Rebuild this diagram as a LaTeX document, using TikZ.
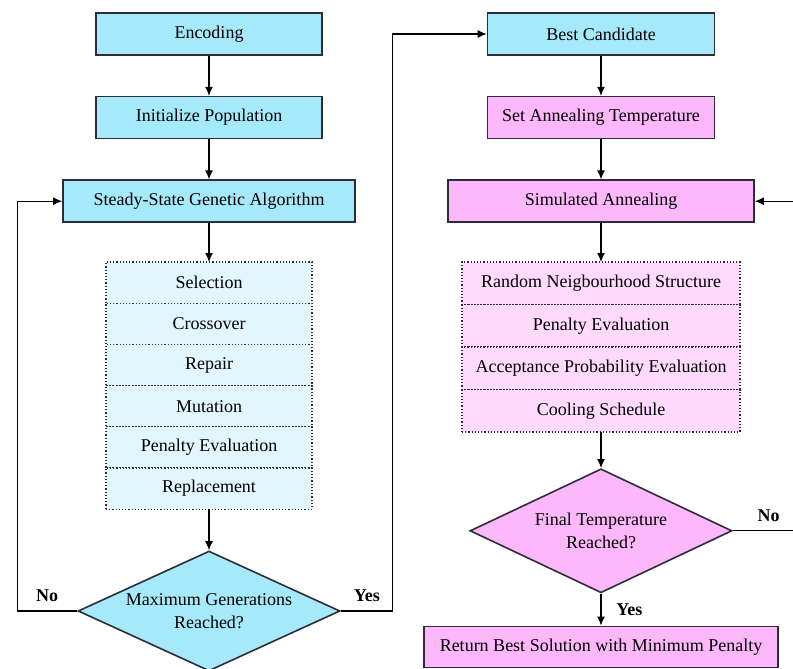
\documentclass[tikz,border=0pt]{standalone}
\usepackage{fontspec}
\setmainfont{Liberation Serif}
\usetikzlibrary{positioning}
\usetikzlibrary{arrows.meta}
\usetikzlibrary{shapes.geometric}
\definecolor{gacyan}{RGB}{166,233,250}
\definecolor{gacyanlight}{RGB}{225,246,253}
\definecolor{sapink}{RGB}{253,183,251}
\definecolor{sapinklight}{RGB}{255,218,254}
\definecolor{edgegray}{RGB}{45,45,58}

\begin{document}
\begin{tikzpicture}[x=1pt,y=1pt,font=\rmfamily\fontsize{9}{11.5}\selectfont]
\tikzset{gabox/.style={rectangle,minimum height=21pt, draw=edgegray, line width=0.8pt, fill=gacyan}}
\tikzset{sabox/.style={rectangle,minimum height=21pt, draw=edgegray, line width=0.8pt, fill=sapink}}
\tikzset{gastep/.style={rectangle,minimum width=103pt,minimum height=20.6pt, outer sep=0pt, draw=edgegray, densely dotted, line width=0.6pt, fill=gacyanlight}}
\tikzset{sastep/.style={rectangle,minimum width=139pt,minimum height=21.25pt, outer sep=0pt, draw=edgegray, densely dotted, line width=0.6pt, fill=sapinklight}}
\tikzset{gadecision/.style={diamond,aspect=2.2,inner sep=0pt,minimum width=131pt,minimum height=60pt, align=center, draw=edgegray, line width=0.8pt, fill=gacyan}}
\tikzset{sadecision/.style={diamond,aspect=2.1,inner sep=0pt,minimum width=131pt,minimum height=62pt, align=center, draw=edgegray, line width=0.8pt, fill=sapink}}
\tikzset{flow/.style={draw=black, line width=0.6pt, -{Latex[length=4.5pt,width=4pt]}}}
\tikzset{answer/.style={font=\rmfamily\fontsize{9}{11}\selectfont\bfseries}}
\useasboundingbox (0,0) rectangle (396.5,-334.5);
\clip (0,0) rectangle (396.5,-334.5);
% genetic algorithm
\node[gabox, minimum width=113pt] (encoding) at (104.5,-17) {Encoding};
\node[gabox, minimum width=113pt, below = 20pt of encoding] (initpop) {Initialize Population};
\node[gabox, minimum width=146pt, below = 20pt of initpop] (ssga) {Steady-State Genetic Algorithm};
\node[gastep, below = 19.5pt of ssga] (selection) {Selection};
\node[gastep, below = 0pt of selection] (crossover) {Crossover};
\node[gastep, below = 0pt of crossover] (repair) {Repair};
\node[gastep, below = 0pt of repair] (mutation) {Mutation};
\node[gastep, below = 0pt of mutation] (gapenalty) {Penalty Evaluation};
\node[gastep, below = 0pt of gapenalty] (replacement) {Replacement};
\node[gadecision, below = 20.5pt of replacement] (maxgen) {Maximum Generations\\Reached?};
% simulated annealing
\node[gabox, minimum width=113.5pt] (bestcand) at (300.5,-17) {Best Candidate};
\node[sabox, minimum width=113.5pt, below = 20pt of bestcand] (settemp) {Set Annealing Temperature};
\node[sabox, minimum width=153pt, below = 20pt of settemp] (simann) {Simulated Annealing};
\node[sastep, below = 19.5pt of simann] (neighbour) {Random Neigbourhood Structure};
\node[sastep, below = 0pt of neighbour] (sapenalty) {Penalty Evaluation};
\node[sastep, below = 0pt of sapenalty] (acceptance) {Acceptance Probability Evaluation};
\node[sastep, below = 0pt of acceptance] (cooling) {Cooling Schedule};
\node[sadecision, below = 18pt of cooling] (finaltemp) {Final Temperature\\Reached?};
\node[sabox, minimum width=177pt, minimum height=20.5pt, below = 16pt of finaltemp] (result) {Return Best Solution with Minimum Penalty};
\coordinate (rightloop) at (410,0);
% connectors
\draw[flow] (encoding) -- (initpop);
\draw[flow] (initpop) -- (ssga);
\draw[flow] (ssga) -- (selection);
\draw[flow] (replacement) -- (maxgen);
\draw[flow] (maxgen.west) -- node[answer, above=1pt] {No} ++(-30,0) |- (ssga.west);
\draw[flow] (maxgen.east) -- node[answer, above=1pt] {Yes} ++(26,0) |- (bestcand.west);
\draw[flow] (bestcand) -- (settemp);
\draw[flow] (settemp) -- (simann);
\draw[flow] (simann) -- (neighbour);
\draw[flow] (cooling) -- (finaltemp);
\draw[flow] (finaltemp) -- node[answer, right=4pt] {Yes} (result);
\draw[flow] (finaltemp.east) -- node[answer, above=1pt, pos=0.41] {No} (finaltemp.east -| rightloop) |- (simann.east);
\end{tikzpicture}
\end{document}
